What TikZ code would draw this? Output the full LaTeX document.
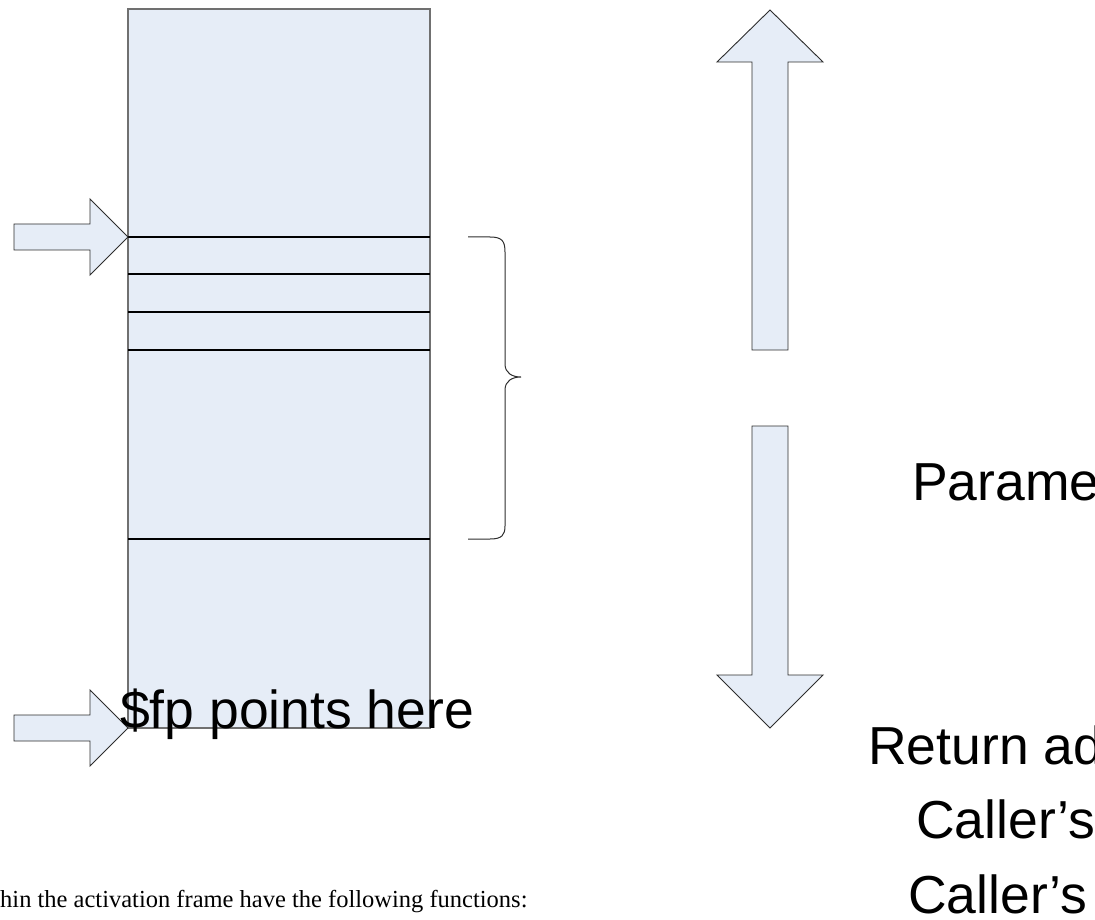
\documentclass[tikz,border=0pt]{standalone}
\usepackage{fontspec}
\setmainfont{Liberation Serif}
\setsansfont{Liberation Sans}
\usepackage{tikz}
\usetikzlibrary{arrows.meta}

\definecolor{framefill}{RGB}{230,237,247}
\definecolor{frameedge}{RGB}{112,112,112}
\definecolor{arrowedge}{RGB}{45,45,45}

\begin{document}
\begin{tikzpicture}[x=1pt,y=-1pt]

\tikzstyle{every node}=[inner sep=0pt, anchor=base west]
\tikzstyle{slot}=[draw=black, line width=1.2pt]
\tikzstyle{blockarrow}=[draw=arrowedge, fill=framefill, line width=0.9pt, line join=miter]
\tikzstyle{bigtext}=[font=\sffamily\fontsize{53.5}{60}\selectfont]

\useasboundingbox (0,0) rectangle (1095,920);
\clip (0,0) rectangle (1095,920);

% the activation frame
\draw[fill=framefill, draw=frameedge, line width=1.6pt] (128,9) rectangle (430,728);
\foreach \y in {237,274,312,350,539}
	\draw[slot] (128,\y) -- (430,\y);

% pointers at the left edge
\foreach \y in {237,728}
	\draw[blockarrow] 
			(14,\y-13) -- (90,\y-13) -- (90,\y-38) -- (128,\y) 
		-- 	(90,\y+38) -- (90,\y+13) -- (14,\y+13) -- cycle;

% brace
\draw[line width=1pt, draw=arrowedge] 
			(468,237) -- (490,237) 
			.. controls (502,237) and (505,241) .. (505,252) -- (505,364) 
			.. controls (505,373) and (512,377) .. (521,377) 
			.. controls (512,377) and (505,381) .. (505,390) -- (505,526) 
			.. controls (505,535) and (502,539) .. (490,539) -- (468,539);

% growth arrows
\draw[blockarrow] 
			(752,350) -- (752,62) -- (717,62) -- (770,10) 
		-- 	(823,62) -- (788,62) -- (788,350) -- cycle;
\draw[blockarrow] 
			(752,426) -- (752,675) -- (717,675) -- (770,728) 
		-- 	(823,675) -- (788,675) -- (788,426) -- cycle;

% labels
\node[bigtext] (fplabel) at (120,728) {\$fp points here};
\node[bigtext] (params) at (912,500) {Parame};
\node[bigtext] (retaddr) at (868,764) {Return ad};
\node[bigtext] (callerfp) at (916,838) {Caller’s};
\node[bigtext] (callerra) at (908,913) {Caller’s};
\node[font=\rmfamily\fontsize{24.5}{28}\selectfont] (note) at (0,907) 
	{hin the activation frame have the following functions:};
%\draw[red] (0,0) grid[step=100] (1095,920);
\end{tikzpicture}
\end{document}
